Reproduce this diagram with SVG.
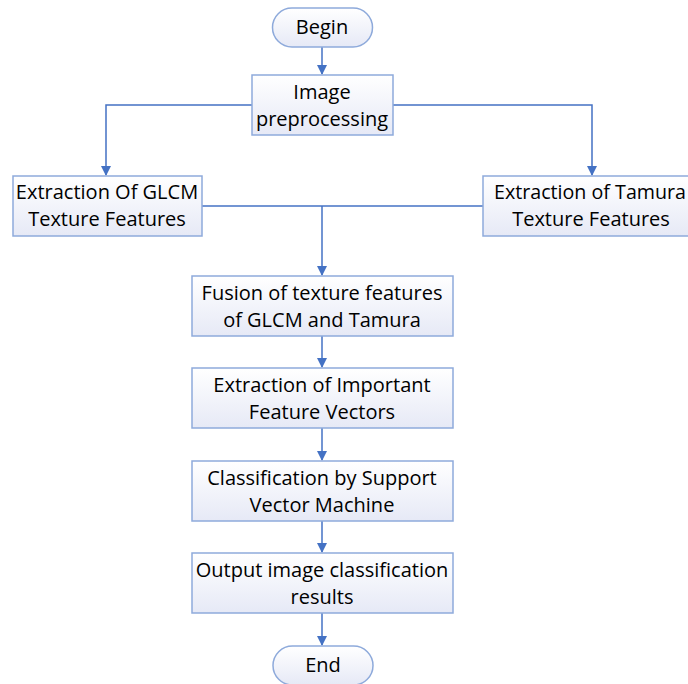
<svg xmlns="http://www.w3.org/2000/svg" width="688" height="684" viewBox="0 0 688 684">
<defs>
<linearGradient id="g" x1="0" y1="0" x2="0" y2="1">
<stop offset="0" stop-color="#ffffff"/>
<stop offset="1" stop-color="#e6e9f6"/>
</linearGradient>
<marker id="a" markerWidth="10" markerHeight="10" refX="9" refY="5" orient="auto" markerUnits="userSpaceOnUse">
<path d="M0,0 L10,5 L0,10 z" fill="#4472c4"/>
</marker>
<style>
.n{fill:url(#g);stroke:#8eaadb;stroke-width:1.5}
.t{font-family:"Open Sans","Noto Sans",sans-serif;font-size:20px;fill:#000;text-anchor:middle}
.c{fill:none;stroke:#4472c4;stroke-width:1.5}
</style>
</defs>
<rect width="688" height="684" fill="#fff"/>
<g id="connectors">
<path class="c" d="M322,47 V74" marker-end="url(#a)"/>
<path class="c" d="M252,105 H106 V175" marker-end="url(#a)"/>
<path class="c" d="M393,105 H592 V175" marker-end="url(#a)"/>
<path class="c" d="M202,206 H483"/>
<path class="c" d="M322,206 V275" marker-end="url(#a)"/>
<path class="c" d="M322,336 V367" marker-end="url(#a)"/>
<path class="c" d="M322,428 V460" marker-end="url(#a)"/>
<path class="c" d="M322,521 V552" marker-end="url(#a)"/>
<path class="c" d="M322,613 V645" marker-end="url(#a)"/>
</g>
<g id="begin">
<rect class="n" x="272.5" y="8" width="100" height="39" rx="19.5"/>
<text class="t" x="322" y="34">Begin</text>
</g>
<g id="preprocessing">
<rect class="n" x="252" y="75" width="141" height="60"/>
<text class="t" x="322" y="99">Image</text>
<text class="t" x="322" y="126">preprocessing</text>
</g>
<g id="glcm">
<rect class="n" x="13" y="176" width="189" height="60"/>
<text class="t" x="107" y="199">Extraction Of GLCM</text>
<text class="t" x="107" y="226">Texture Features</text>
</g>
<g id="tamura">
<rect class="n" x="483" y="176" width="220" height="60"/>
<text class="t" x="590" y="199" textLength="192" lengthAdjust="spacingAndGlyphs">Extraction of Tamura</text>
<text class="t" x="591" y="226">Texture Features</text>
</g>
<g id="fusion">
<rect class="n" x="192" y="276" width="261" height="60"/>
<text class="t" x="322" y="300">Fusion of texture features</text>
<text class="t" x="322" y="327">of GLCM and Tamura</text>
</g>
<g id="important">
<rect class="n" x="192" y="368" width="261" height="60"/>
<text class="t" x="322" y="392">Extraction of Important</text>
<text class="t" x="322" y="419">Feature Vectors</text>
</g>
<g id="svm">
<rect class="n" x="192" y="461" width="261" height="60"/>
<text class="t" x="322" y="485">Classification by Support</text>
<text class="t" x="322" y="512">Vector Machine</text>
</g>
<g id="output">
<rect class="n" x="192" y="553" width="261" height="60"/>
<text class="t" x="322" y="577">Output image classification</text>
<text class="t" x="322" y="604">results</text>
</g>
<g id="end">
<rect class="n" x="273" y="646" width="100" height="39" rx="19.5"/>
<text class="t" x="323" y="672">End</text>
</g>
</svg>
